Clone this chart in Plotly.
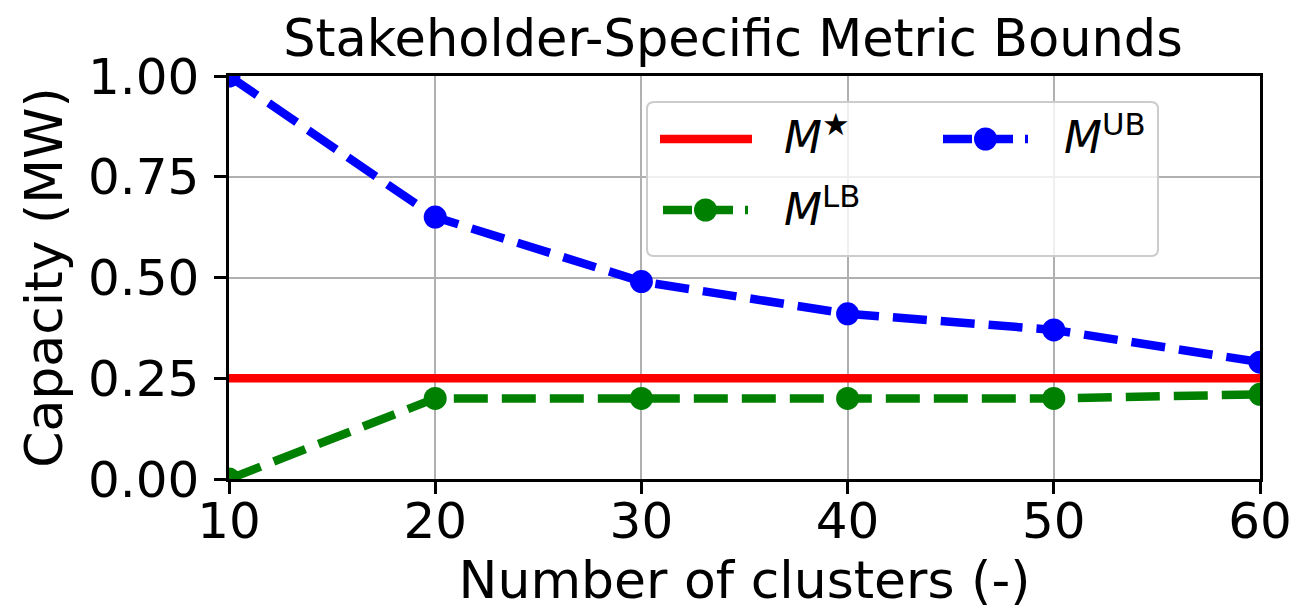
import plotly.graph_objects as go

clusters = [10, 20, 30, 40, 50, 60]
m_star = [0.25, 0.25, 0.25, 0.25, 0.25, 0.25]
m_lb = [0.00, 0.20, 0.20, 0.20, 0.20, 0.21]
m_ub = [1.00, 0.65, 0.49, 0.41, 0.37, 0.29]
y_ticks = [0.0, 0.25, 0.5, 0.75, 1.0]
x_ticks = [10, 20, 30, 40, 50, 60]

OFF = 8  # default page body margin
W, H = 1298 - OFF, 613 - OFF
L, R, T, B = 229 - OFF, 38, 76 - OFF, 134
PW, PH = W - L - R, H - T - B
FONT = "DejaVu Sans"
MS = 23


def px(x):
    return (x - OFF - L) / PW


def py(y):
    return (H - B - (y - OFF)) / PH


fig = go.Figure()
fig.add_trace(go.Scatter(x=clusters, y=m_star, mode="lines",
                         line=dict(color="#ff0000", width=8.5), showlegend=False))
fig.add_trace(go.Scatter(x=clusters, y=m_lb, mode="lines+markers",
                         line=dict(color="#008000", width=8.5, dash="34px,14px"),
                         marker=dict(size=MS, color="#008000"), showlegend=False))
fig.add_trace(go.Scatter(x=clusters, y=m_ub, mode="lines+markers",
                         line=dict(color="#0000ff", width=8.5, dash="34px,14px"),
                         marker=dict(size=MS, color="#0000ff"), showlegend=False))

shapes = []
x0, x1, y0, y1, r = 647, 1158, 102, 256, 7
def P(x, y):
    return f"{px(x)},{py(y)}"
path = (f"M {P(x0 + r, y0)} L {P(x1 - r, y0)} Q {P(x1, y0)} {P(x1, y0 + r)} "
        f"L {P(x1, y1 - r)} Q {P(x1, y1)} {P(x1 - r, y1)} L {P(x0 + r, y1)} "
        f"Q {P(x0, y1)} {P(x0, y1 - r)} L {P(x0, y0 + r)} Q {P(x0, y0)} {P(x0 + r, y0)} Z")
shapes.append(dict(type="path", xref="paper", yref="paper", path=path,
                   fillcolor="rgba(255,255,255,0.8)", line=dict(color="#cccccc", width=2),
                   layer="above"))
shapes.append(dict(type="line", xref="paper", yref="paper", x0=px(660), x1=px(752),
                   y0=py(139), y1=py(139), line=dict(color="#ff0000", width=8.5), layer="above"))
for (sx0, sx1, sy, col) in [(943, 1028, 139, "#0000ff"), (663, 748, 210, "#008000")]:
    shapes.append(dict(type="line", xref="paper", yref="paper", x0=px(sx0), x1=px(sx1),
                       y0=py(sy), y1=py(sy), line=dict(color=col, width=8.5, dash="29px,12px"),
                       layer="above"))
    cx = (sx0 + sx1) / 2
    rr = MS / 2
    shapes.append(dict(type="circle", xref="paper", yref="paper",
                       x0=px(cx - rr), x1=px(cx + rr), y0=py(sy + rr), y1=py(sy - rr),
                       fillcolor=col, line=dict(color=col, width=0), layer="above"))

annotations = []
for (tx, ty, txt) in [(782, 165, "<i>M</i><sup>★</sup>"),
                      (1062, 165, "<i>M</i><sup>UB</sup>"),
                      (782, 237, "<i>M</i><sup>LB</sup>")]:
    annotations.append(dict(x=px(tx), y=py(ty), xref="paper", yref="paper",
                            xanchor="left", yanchor="bottom", showarrow=False, text=txt,
                            font=dict(family=FONT, size=44, color="black")))

fig.update_layout(
    width=W, height=H,
    margin=dict(l=L, r=R, t=T, b=B, autoexpand=False),
    paper_bgcolor="white", plot_bgcolor="white",
    font=dict(family=FONT, color="black", size=50),
    title=dict(text="Stakeholder-Specific Metric Bounds", x=px(733), xref="paper",
               xanchor="center", y=1 - (38 - OFF) / H, yanchor="middle",
               font=dict(family=FONT, size=51, color="black")),
    shapes=shapes,
    annotations=annotations,
)
fig.update_xaxes(range=[10, 60], tickvals=x_ticks, ticktext=[str(v) for v in x_ticks],
                 showgrid=True, gridcolor="#b0b0b0", gridwidth=2,
                 showline=True, linecolor="black", linewidth=2.5, mirror=True,
                 ticks="outside", ticklen=12, tickwidth=2.5, tickcolor="black",
                 tickfont=dict(family=FONT, size=50), zeroline=False,
                 ticklabelstandoff=-16,
                 title=dict(text="Number of clusters (-)", font=dict(family=FONT, size=52),
                            standoff=4))
fig.update_yaxes(range=[0, 1], tickvals=y_ticks, ticktext=[f"{v:.2f}" for v in y_ticks],
                 showgrid=True, gridcolor="#b0b0b0", gridwidth=2,
                 showline=True, linecolor="black", linewidth=2.5, mirror=True,
                 ticks="outside", ticklen=12, tickwidth=2.5, tickcolor="black",
                 tickfont=dict(family=FONT, size=50), zeroline=False,
                 ticklabelstandoff=5,
                 title=dict(text="Capacity (MW)", font=dict(family=FONT, size=52),
                            standoff=9))

fig.write_html("out.html")
